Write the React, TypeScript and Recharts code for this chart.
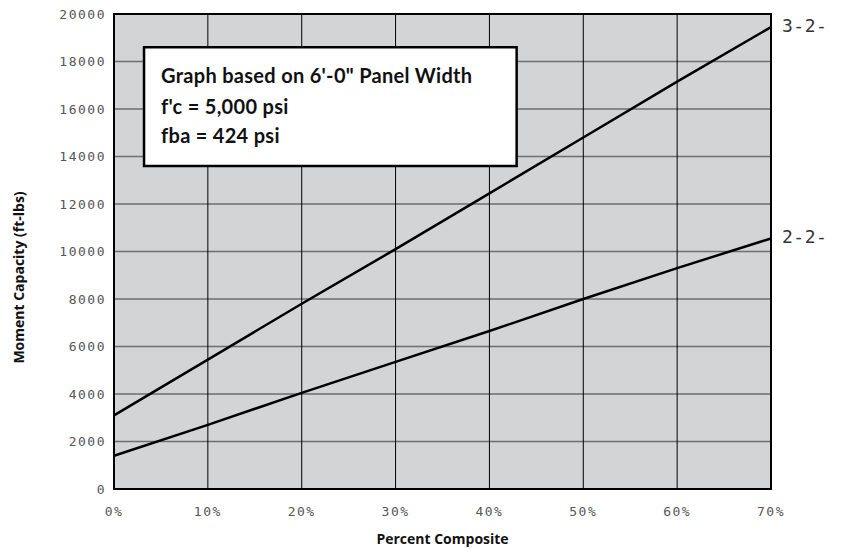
import React from 'react'
import { LineChart, Line, XAxis, YAxis, CartesianGrid, ReferenceArea, LabelList } from 'recharts'

// percent composite (x) and moment capacity (ft-lbs) per section
const percentComposite = [0, 10, 20, 30, 40, 50, 60, 70]
const section322 = [3100, 5450, 7800, 10100, 12450, 14800, 17150, 19450]
const section222 = [1400, 2700, 4050, 5350, 6650, 8000, 9300, 10550]

const yTicks = [0, 2000, 4000, 6000, 8000, 10000, 12000, 14000, 16000, 18000, 20000]
const xTicks = [0, 10, 20, 30, 40, 50, 60, 70]

const noteLines = ['Graph based on 6\'-0" Panel Width', "f'c = 5,000 psi", 'fba = 424 psi']

const data = percentComposite.map((p, i) => ({
    pct: p,
    s322: section322[i],
    s222: section222[i],
}))

const monoFont = '"DejaVu Sans Mono", monospace'
const titleFont = '"Open Sans", sans-serif'
const tickStyle = { fill: '#555', fontSize: 13, fontFamily: monoFont, letterSpacing: 1.5 }

const endLabel = (name: string) => (props: any) => {
    const { x, y, index } = props
    if (index !== data.length - 1) return null
    return (
        <text
            x={x + 11}
            y={y - 2}
            dominantBaseline="central"
            fill="#333"
            fontSize={18}
            fontFamily={monoFont}
            letterSpacing={0.5}
        >
            {name}
        </text>
    )
}

const NoteBox = (props: any) => {
    const { viewBox } = props
    if (!viewBox) return null
    const { x, y } = viewBox
    return (
        <g>
            {noteLines.map((t, i) => (
                <text
                    key={i}
                    x={x + 17}
                    y={y + 28 + [0, 31, 60][i]}
                    dominantBaseline="central"
                    fill="#111"
                    fontSize={20}
                    fontWeight={700}
                    fontFamily="Lato, sans-serif"
                    letterSpacing={0.3}
                >
                    {t}
                </text>
            ))}
        </g>
    )
}

const YTitle = (props: any) => {
    const { viewBox } = props
    const cy = viewBox ? viewBox.y + viewBox.height / 2 + 26 : 278
    return (
        <text
            x={18}
            y={cy}
            transform={`rotate(-90, 18, ${cy})`}
            textAnchor="middle"
            dominantBaseline="central"
            fill="#111"
            fontSize={14}
            fontWeight={700}
            fontFamily={titleFont}
        >
            Moment Capacity (ft-lbs)
        </text>
    )
}

export default function App() {
    return (
        <div style={{ position: 'absolute', left: 0, top: 0, width: 841, height: 550, background: '#fff' }}>
            <LineChart width={841} height={550} data={data} margin={{ top: 14, right: 70, bottom: 0, left: 0 }}>
                <CartesianGrid vertical={false} stroke="#6e6e6e" strokeWidth={1.5} fill="#d3d4d6" fillOpacity={1} />
                <CartesianGrid horizontal={false} stroke="#000" strokeWidth={1} />
                <XAxis
                    dataKey="pct"
                    type="number"
                    domain={[0, 70]}
                    ticks={xTicks}
                    tickFormatter={(v) => `${v}%`}
                    tick={tickStyle}
                    tickLine={false}
                    axisLine={{ stroke: '#000', strokeWidth: 2 }}
                    tickMargin={12}
                    height={61}
                    label={{
                        value: 'Percent Composite',
                        position: 'insideBottom',
                        offset: 6,
                        fill: '#111',
                        fontSize: 14,
                        fontWeight: 700,
                        fontFamily: titleFont,
                    }}
                />
                <YAxis
                    type="number"
                    domain={[0, 20000]}
                    ticks={yTicks}
                    tick={tickStyle}
                    tickLine={false}
                    axisLine={{ stroke: '#000', strokeWidth: 2 }}
                    tickMargin={2}
                    width={114}
                    interval={0}
                    label={<YTitle />}
                />
                <ReferenceArea
                    x1={0}
                    x2={70}
                    y1={0}
                    y2={20000}
                    fill="none"
                    stroke="#000"
                    strokeWidth={2}
                />
                <Line
                    dataKey="s322"
                    stroke="#000"
                    strokeWidth={2.5}
                    dot={false}
                    type="linear"
                    isAnimationActive={false}
                >
                    <LabelList dataKey="s322" content={endLabel('3-2-')} />
                </Line>
                <Line
                    dataKey="s222"
                    stroke="#000"
                    strokeWidth={2.5}
                    dot={false}
                    type="linear"
                    isAnimationActive={false}
                >
                    <LabelList dataKey="s222" content={endLabel('2-2-')} />
                </Line>
                <ReferenceArea
                    x1={3.2}
                    x2={42.9}
                    y1={13600}
                    y2={18600}
                    fill="#fff"
                    fillOpacity={1}
                    stroke="#000"
                    strokeWidth={2.5}
                    label={<NoteBox />}
                />
            </LineChart>
        </div>
    )
}
